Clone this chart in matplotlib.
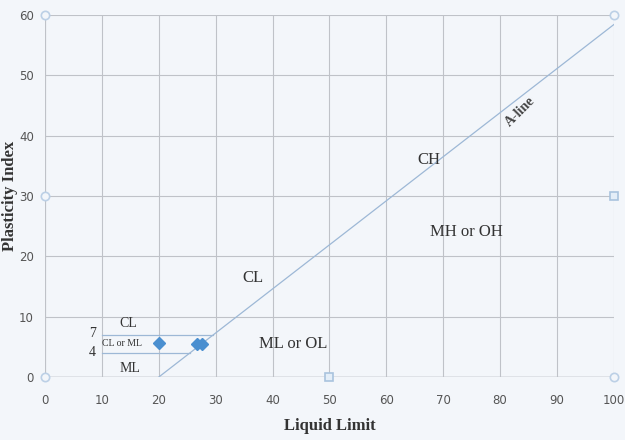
import matplotlib
matplotlib.use("Agg")
import matplotlib.pyplot as plt
import numpy as np

# A-line: PI = 0.73 (LL - 20)
aline_ll = [20, 100]
aline_pi = [0, 58.4]
# CL-ML band boundaries
band_ll_start = [10, 10]
band_ll_end = [29.6, 25.5]
band_pi = [7, 4]
# data points
sample_ll = [20, 26.7, 27.6]
sample_pi = [5.6, 5.5, 5.5]
# frame marker points
frame_ll = [0, 0, 0, 100, 100]
frame_pi = [0, 30, 60, 0, 60]
frame_sq_ll = [50, 100]
frame_sq_pi = [0, 30]

# region labels
labels = ["CH", "MH or OH", "CL", "ML or OL", "CL", "ML"]
labels_ll = [67.5, 74, 36.5, 43.6, 14.6, 15]
labels_pi = [36, 24, 16.4, 5.5, 8.8, 1.5]

xticks = list(range(0, 101, 10))
yticks = list(range(0, 61, 10))

bg = "#f3f6fa"
fig = plt.figure(figsize=(6.25, 4.4), dpi=100, facecolor=bg)
ax = fig.add_axes([0.072, 0.143, 0.91, 0.823], facecolor=bg)
ax.set_xlim(0, 100)
ax.set_ylim(0, 60)
ax.set_xticks(xticks)
ax.set_yticks(yticks)
ax.grid(True, color="#bfc2c8", lw=0.8)
for s in ax.spines.values():
    s.set_visible(False)
ax.axhline(0, color="#9a9da4", lw=1.0, zorder=1)
ax.axvline(0, color="#bfc2c8", lw=0.8, zorder=1)
ax.tick_params(axis="y", length=0, labelsize=8.5, labelcolor="#555555", pad=8)
ax.tick_params(axis="x", length=0, labelsize=8.5, labelcolor="#555555", pad=12)
for t in ax.get_xticklabels() + ax.get_yticklabels():
    t.set_fontfamily("DejaVu Sans")

ax.plot(aline_ll, aline_pi, color="#9db8d6", lw=0.9, zorder=2)
for x0, x1, y in zip(band_ll_start, band_ll_end, band_pi):
    ax.plot([x0, x1], [y, y], color="#9db8d6", lw=0.9, zorder=2)

ax.plot(sample_ll, sample_pi, linestyle="none", marker="D", ms=6,
        color="#4a8fd0", zorder=4)
ax.plot(frame_ll, frame_pi, linestyle="none", marker="o", ms=6,
        mfc="#f3f6fa", mec="#bcd0e6", mew=1.2, zorder=3, clip_on=False)
ax.plot(frame_sq_ll, frame_sq_pi, linestyle="none", marker="s", ms=5.5,
        mfc="#e4eef8", mec="#a9c3de", mew=1.2, zorder=3, clip_on=False)

serif = "Liberation Serif"
sizes = [12, 12, 12, 12, 10, 10]
for txt, x, y, s in zip(labels, labels_ll, labels_pi, sizes):
    ax.text(x, y, txt, fontsize=s, family=serif, color="#333333",
            ha="center", va="center")
ax.text(13.5, 5.5, "CL or ML", fontsize=7, family=serif, color="#333333",
        ha="center", va="center")
ax.text(8.3, 7.3, "7", fontsize=10, family=serif, color="#333333",
        ha="center", va="center")
ax.text(8.3, 4.1, "4", fontsize=10, family=serif, color="#333333",
        ha="center", va="center")
ax.text(83.5, 44, "A-line", fontsize=10, family=serif, fontweight="bold",
        color="#444444", ha="center", va="center", rotation=45)

ax.set_xlabel("Liquid Limit", fontsize=12, family=serif, fontweight="bold",
              color="#333333", labelpad=8)
ax.set_ylabel("Plasticity Index", fontsize=12, family=serif, fontweight="bold",
              color="#333333")
ax.yaxis.set_label_coords(-0.047, 0.5)

fig.savefig("out.png", dpi=100, facecolor=bg)
